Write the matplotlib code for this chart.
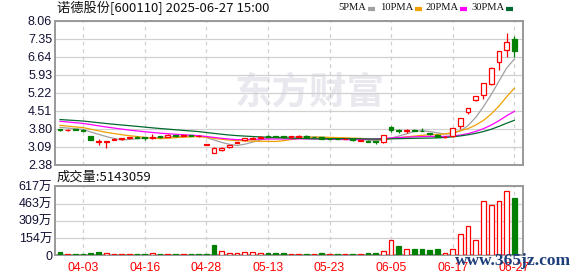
import matplotlib
matplotlib.use('Agg')
import matplotlib.pyplot as plt
from matplotlib.lines import Line2D
import numpy as np
import pandas as pd

plt.rcParams['font.family'] = ['Liberation Sans', 'Noto Sans CJK SC', 'DejaVu Sans']

# trading days shown (2025)
dates = ['03-31', '04-01', '04-02', '04-03', '04-07', '04-08', '04-09', '04-10', '04-11', '04-14',
         '04-15', '04-16', '04-17', '04-18', '04-21', '04-22', '04-23', '04-24', '04-25', '04-28',
         '04-29', '04-30', '05-06', '05-07', '05-08', '05-09', '05-12', '05-13', '05-14', '05-15',
         '05-16', '05-19', '05-20', '05-21', '05-22', '05-23', '05-26', '05-27', '05-28', '05-29',
         '05-30', '06-03', '06-04', '06-05', '06-06', '06-09', '06-10', '06-11', '06-12', '06-13',
         '06-16', '06-17', '06-18', '06-19', '06-20', '06-23', '06-24', '06-25', '06-26', '06-27']

# closes before the window (for the moving averages)
pre_close = [4.36, 4.33, 4.35, 4.30, 4.28, 4.31, 4.27, 4.25, 4.29, 4.26,
             4.30, 4.33, 4.28, 4.26, 4.29, 4.24, 4.22, 4.25, 4.20, 4.13,
             4.08, 4.05, 4.00, 3.97, 3.95, 3.90, 3.88, 3.86, 3.86]

opens = [3.77, 3.74, 3.77, 3.75, 3.49, 3.28, 3.29, 3.36, 3.38, 3.42,
         3.47, 3.45, 3.44, 3.49, 3.48, 3.54, 3.50, 3.53, 3.50, 3.16,
         2.85, 2.95, 3.06, 3.24, 3.34, 3.40, 3.44, 3.49, 3.50, 3.49,
         3.45, 3.48, 3.51, 3.47, 3.45, 3.40, 3.39, 3.38, 3.38, 3.32,
         3.32, 3.30, 3.26, 3.85, 3.76, 3.72, 3.74, 3.71, 3.61, 3.56,
         3.46, 3.51, 3.91, 4.46, 4.93, 5.15, 5.55, 6.42, 6.90, 7.35]
highs = [3.80, 3.78, 3.79, 3.77, 3.50, 3.40, 3.32, 3.42, 3.43, 3.47,
         3.49, 3.47, 3.60, 3.51, 3.57, 3.56, 3.56, 3.55, 3.53, 3.16,
         3.09, 3.07, 3.16, 3.29, 3.43, 3.46, 3.49, 3.56, 3.51, 3.50,
         3.50, 3.53, 3.53, 3.48, 3.46, 3.42, 3.41, 3.41, 3.39, 3.36,
         3.33, 3.31, 3.55, 3.89, 3.80, 3.80, 3.80, 3.84, 3.63, 3.58,
         3.50, 3.83, 4.21, 4.63, 5.09, 5.60, 6.22, 6.88, 7.59, 7.46]
lows = [3.72, 3.72, 3.73, 3.70, 3.35, 3.17, 3.03, 3.33, 3.36, 3.40,
        3.43, 3.35, 3.40, 3.44, 3.46, 3.48, 3.49, 3.50, 3.48, 3.16,
        2.84, 2.92, 3.04, 3.22, 3.32, 3.39, 3.43, 3.46, 3.45, 3.44,
        3.44, 3.47, 3.44, 3.44, 3.38, 3.38, 3.37, 3.37, 3.31, 3.31,
        3.26, 3.21, 3.25, 3.67, 3.64, 3.64, 3.70, 3.69, 3.55, 3.45,
        3.44, 3.47, 3.80, 4.37, 4.89, 4.98, 5.51, 6.14, 6.62, 6.62]
closes = [3.75, 3.76, 3.75, 3.72, 3.35, 3.30, 3.31, 3.39, 3.41, 3.45,
          3.44, 3.43, 3.47, 3.46, 3.55, 3.50, 3.53, 3.52, 3.51, 3.16,
          3.03, 3.05, 3.15, 3.27, 3.42, 3.43, 3.48, 3.47, 3.46, 3.45,
          3.49, 3.51, 3.45, 3.46, 3.39, 3.39, 3.38, 3.40, 3.33, 3.35,
          3.27, 3.26, 3.53, 3.74, 3.72, 3.73, 3.71, 3.70, 3.57, 3.46,
          3.48, 3.83, 4.21, 4.63, 5.09, 5.60, 6.20, 6.86, 7.23, 6.86]
# volume in 万手
volume = [27, 9, 9, 9, 18, 33, 24, 15, 9, 15,
          9, 9, 24, 9, 9, 15, 15, 9, 9, 9,
          89, 39, 24, 24, 33, 33, 24, 18, 18, 18,
          15, 15, 9, 15, 18, 9, 9, 15, 9, 9,
          18, 18, 36, 134, 80, 60, 54, 54, 45, 54,
          18, 60, 188, 259, 134, 483, 453, 483, 572, 514.3059]
last_volume = 5143059

ma_windows = [5, 10, 20, 30]
ma_names = ['5PMA', '10PMA', '20PMA', '30PMA']
ma_colors = ['#A0A0A0', '#F0A000', '#FF00FF', '#006A30']

tick_labels = ['04-03', '04-16', '04-28', '05-13', '05-23', '06-05', '06-17', '06-27']
price_ticks = [2.38, 3.09, 3.80, 4.51, 5.22, 5.93, 6.64, 7.35, 8.06]
vol_ticks = [0, 154.25, 308.5, 462.75, 617]

RED = '#FF0000'
GREEN = '#008000'
GRID = '#D0D0D0'
SPINE = '#999999'

fig = plt.figure(figsize=(5.78, 2.76), dpi=100)
ax = fig.add_axes([55 / 578, 1 - 164.5 / 276, 468 / 578, 143.5 / 276])
axv = fig.add_axes([55 / 578, 1 - 255.3 / 276, 468 / 578, 69 / 276])

x = np.arange(len(closes))
o = np.array(opens)
h = np.array(highs)
l = np.array(lows)
c = np.array(closes)
up = c >= o
col = np.where(up, RED, GREEN)
lo_b = np.minimum(o, c)
hi_b = np.maximum(o, c)

all_close = pd.Series(pre_close + closes)
for w, name, mc in zip(ma_windows, ma_names, ma_colors):
    ma = all_close.rolling(w).mean().values[len(pre_close):]
    ax.plot(x, ma, color=mc, lw=0.9, zorder=2)

ax.vlines(x, l, lo_b, color=col, lw=0.9, zorder=3)
ax.vlines(x, hi_b, h, color=col, lw=0.9, zorder=3)
ax.bar(x, np.maximum(hi_b - lo_b, 0.012), bottom=lo_b, width=0.62,
       facecolor=np.where(up, 'white', GREEN), edgecolor=col, lw=0.9, zorder=4)

# volume coloured by change versus previous close
prev = np.array([pre_close[-1]] + closes[:-1])
vup = c >= prev
vcol = np.where(vup, RED, GREEN)
axv.bar(x, volume, width=0.62, facecolor=np.where(vup, 'white', GREEN),
        edgecolor=vcol, lw=0.9, zorder=3)

tick_pos = [dates.index(d) for d in tick_labels]
for a in (ax, axv):
    a.set_xlim(-0.65, 60.13)
    a.set_xticks(tick_pos)
    a.grid(axis='x', color=GRID, ls=(0, (3, 3)), lw=0.9)
    a.grid(axis='y', color=GRID, ls='-', lw=0.9)
    a.set_axisbelow(True)
    for s in a.spines.values():
        s.set_color(SPINE)
        s.set_linewidth(1.4)
    a.tick_params(length=0, labelsize=9, pad=2)

ax.set_ylim(price_ticks[0], price_ticks[-1])
ax.set_yticks(price_ticks)
ax.set_yticklabels([f'{t:.2f}' for t in price_ticks], color='#111133')
ax.set_xticklabels([])

axv.set_ylim(vol_ticks[0], vol_ticks[-1])
axv.set_yticks(vol_ticks)
axv.set_yticklabels(['0'] + [f'{int(t + 0.5)}万' for t in vol_ticks[1:]], color='#111133')
axv.set_xticklabels(tick_labels, color=RED, fontsize=8.8)
axv.tick_params(axis='x', pad=5)

# watermark
ax.text(0.545, 0.5, '东方财富', transform=ax.transAxes, fontsize=27, color='#E8E8EE',
        family=['Noto Sans CJK SC'], fontweight='bold', ha='center', va='center', zorder=0)

fig.text(57 / 578, 1 - 8 / 276, '诺德股份[600110] 2025-06-27 15:00', fontsize=9.5,
         family=['Noto Sans CJK SC', 'DejaVu Sans'], va='center', ha='left', color='#111111')
fig.text(57 / 578, 1 - 177 / 276, f'成交量:{last_volume}', fontsize=9.5,
         family=['Noto Sans CJK SC', 'DejaVu Sans'], va='center', ha='left', color='#111111')

# legend: text then a short coloured dash
leg_x = [338, 380, 425, 471]
renderer = fig.canvas.get_renderer()
for lx, name, mc in zip(leg_x, ma_names, ma_colors):
    t = fig.text(lx / 578, 1 - 8 / 276, name, fontsize=7.6, family=['Liberation Serif'],
                 va='center', ha='left', color='#111111')
    bb = t.get_window_extent(renderer)
    mx = bb.x1 + 2
    fig.add_artist(Line2D([mx / 578, (mx + 7) / 578], [1 - 8.5 / 276, 1 - 8.5 / 276],
                          color=mc, lw=3, solid_capstyle='butt'))

fig.text(455 / 578, 1 - 261 / 276, 'www.365jz.com', fontsize=12.5, family=['Liberation Serif'],
         fontweight='bold', color='#1E3D7B', va='center', ha='left')

fig.savefig('out.png', dpi=100)
